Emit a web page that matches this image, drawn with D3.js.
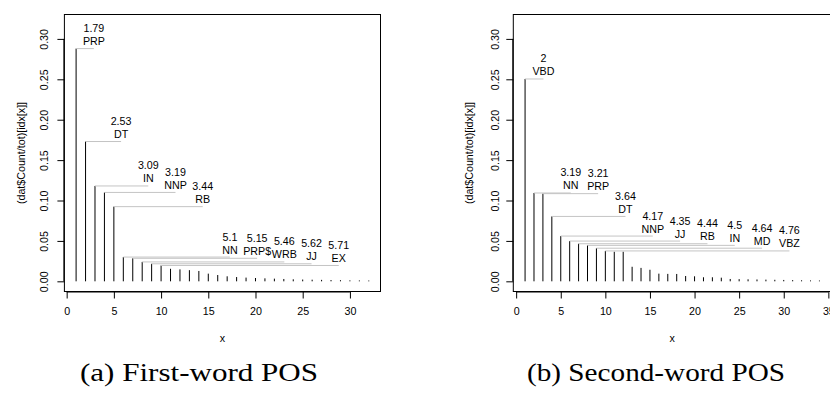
<!DOCTYPE html>
<html><head><meta charset="utf-8">
<script src="https://cdn.jsdelivr.net/npm/d3@7"></script>
<style>body{margin:0;background:#fff}svg{display:block}</style>
</head><body><svg id="c" width="830" height="395"></svg>
<script>
// ---- data ----
const firstVals = [0.288,0.173,0.118,0.110,0.0924,0.0300,0.0285,0.0240,0.0217,0.0196,
  0.0155,0.0148,0.0138,0.0128,0.0095,0.0078,0.0062,0.0053,0.0046,0.0041,
  0.0037,0.0033,0.0029,0.0025,0.0022,0.0020,0.0018,0.0016,0.0014,0.0012,0.0011,0.0010];
const firstTags = ["PRP","DT","IN","NNP","RB","NN","PRP$","WRB","JJ","EX"];
const firstScores = ["1.79","2.53","3.09","3.19","3.44","5.1","5.15","5.46","5.62","5.71"];

const secondVals = [0.2504,0.1093,0.1085,0.0803,0.0560,0.0498,0.0465,0.0445,0.0410,0.0376,
  0.0366,0.0366,0.0180,0.0166,0.0143,0.0095,0.0092,0.0091,0.0066,0.0062,
  0.0050,0.0050,0.0045,0.0029,0.0027,0.0025,0.0023,0.0021,0.0019,0.0017,0.0015,0.0013,0.0011,0.0010];
const secondTags = ["VBD","NN","PRP","DT","NNP","JJ","RB","IN","MD","VBZ"];
const secondScores = ["2","3.19","3.21","3.64","4.17","4.35","4.44","4.5","4.64","4.76"];

const xTicksFirst = [0,5,10,15,20,25,30];
const xTicksSecond = [0,5,10,15,20,25,30,35];
const yTicks = [0,0.05,0.10,0.15,0.20,0.25,0.30];
const yTickLabels = ["0.00","0.05","0.10","0.15","0.20","0.25","0.30"];
const yTitle = "(dat$Count/tot)[idx[x]]";
const xTitle = "x";
const captions = ["(a) First-word POS","(b) Second-word POS"];

// ---- drawing ----
const svg = d3.select("#c");
const FONT = "'Liberation Sans', Arial, Helvetica, sans-serif";
const FS = 10.7;
const boxTop = 14.5, boxBottom = 291.5;
const y = d3.scaleLinear().domain([-0.0126, 0.3302]).range([boxBottom, boxTop]);

function panel(opts){
  const {vals, tags, scores, xTicks, left, right, caption, capX, capW, tickOff, titleOff} = opts;
  const n = vals.length;
  const pad = (n-1)*0.04;
  const x = d3.scaleLinear().domain([1-pad, n+pad]).range([left, right]);
  const g = svg.append("g");
  g.append("rect").attr("x", left).attr("y", boxTop).attr("width", right-left).attr("height", boxBottom-boxTop)
    .attr("fill","none").attr("stroke","#000").attr("stroke-width",1);
  const idx = d3.range(1, n+1);
  g.selectAll("line.bar").data(idx).join("line").attr("class","bar")
    .attr("x1", d=>x(d)).attr("x2", d=>x(d))
    .attr("y1", y(0)).attr("y2", d=>y(vals[d-1]))
    .attr("stroke","#000").attr("stroke-width",1);
  const ann = d3.range(tags.length);
  const lx = i => (i+1)*(n-0.3)/11;
  g.selectAll("line.ann").data(ann).join("line").attr("class","ann")
    .attr("x1", i=>x(i+1)).attr("x2", i=>x(lx(i)))
    .attr("y1", i=>y(vals[i])).attr("y2", i=>y(vals[i]))
    .attr("stroke","#c4c4c4").attr("stroke-width",1);
  g.selectAll("text.tag").data(ann).join("text").attr("class","tag")
    .attr("x", i=>x(lx(i))).attr("y", i=>y(vals[i])-3.5)
    .attr("text-anchor","middle").attr("font-family",FONT).attr("font-size",FS)
    .text(i=>tags[i]);
  g.selectAll("text.score").data(ann).join("text").attr("class","score")
    .attr("x", i=>x(lx(i))).attr("y", i=>y(vals[i])-16.5)
    .attr("text-anchor","middle").attr("font-family",FONT).attr("font-size",FS)
    .text(i=>scores[i]);
  const xa = g.append("g").attr("transform",`translate(0,${boxBottom})`)
    .call(d3.axisBottom(x).tickValues(xTicks).tickSize(7).tickPadding(9).tickSizeOuter(0));
  xa.select(".domain").attr("d", `M${x(xTicks[0])},0.5H${x(xTicks[xTicks.length-1])}`);
  xa.selectAll("text").attr("font-family",FONT).attr("font-size",FS).attr("fill","#000");
  const ya = g.append("g").attr("transform",`translate(${left},0)`)
    .call(d3.axisLeft(y).tickValues(yTicks).tickFormat((d,i)=>yTickLabels[i]).tickSize(7).tickSizeOuter(0));
  ya.select(".domain").attr("d", `M-0.5,${y(0)}V${y(0.30)}`);
  ya.selectAll(".tick text").attr("font-family",FONT).attr("font-size",FS).attr("fill","#000")
    .attr("text-anchor","middle").attr("x",0).attr("dy",null).attr("y",3.6)
    .attr("transform", `translate(${-tickOff},0) rotate(-90)`);
  g.append("text").attr("x", x((1+n)/2)).attr("y", 341.5).attr("text-anchor","middle")
    .attr("font-family",FONT).attr("font-size",FS).text(xTitle);
  g.append("text").attr("transform",`translate(${left-titleOff},${(boxTop+boxBottom)/2}) rotate(-90)`)
    .attr("y", 3.6).attr("text-anchor","middle").attr("font-family",FONT).attr("font-size",FS).text(yTitle);
  g.append("text").attr("x", capX - capW/2).attr("y", 381)
    .attr("textLength", capW).attr("lengthAdjust","spacingAndGlyphs")
    .attr("font-family","'Liberation Serif', serif").attr("font-size",26)
    .text(caption);
}

panel({vals:firstVals, tags:firstTags, scores:firstScores, xTicks:xTicksFirst,
  left:64.4, right:380.5, caption:captions[0], capX:199, capW:238, tickOff:20.5, titleOff:43});
panel({vals:secondVals, tags:secondTags, scores:secondScores, xTicks:xTicksSecond,
  left:513.3, right:831.2, caption:captions[1], capX:656, capW:258, tickOff:17.5, titleOff:44});
</script>
</body></html>
